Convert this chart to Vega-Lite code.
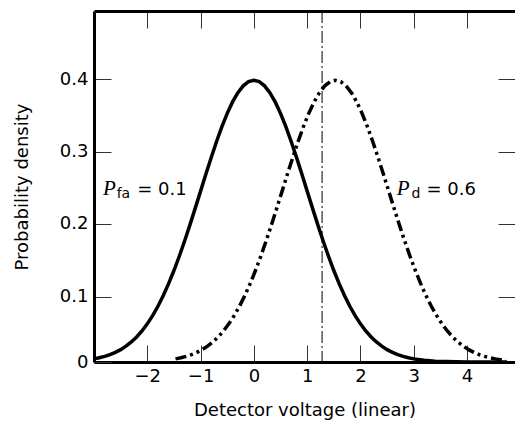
{
  "$schema": "https://vega.github.io/schema/vega-lite/v6.json",
  "width": 421,
  "height": 351,
  "autosize": {"type": "none"},
  "padding": {"left": 94, "top": 11, "right": 0, "bottom": 66},
  "config": {
    "font": "DejaVu Sans",
    "view": {"stroke": null},
    "axis": {
      "grid": false,
      "domainColor": "black",
      "domainWidth": 3,
      "tickColor": "#333333",
      "tickWidth": 1,
      "tickSize": -17,
      "labelFontSize": 18,
      "labelColor": "black",
      "labelFont": "DejaVu Sans",
      "titleFont": "DejaVu Sans",
      "titleFontSize": 18,
      "titleFontWeight": "normal",
      "titleColor": "black",
      "labelPadding": 23
    }
  },
  "datasets": {
    "noise": [
      {"x": -3.0, "y": 0.00443}, {"x": -2.9, "y": 0.00595}, {"x": -2.8, "y": 0.00792}, {"x": -2.7, "y": 0.01042},
      {"x": -2.6, "y": 0.01358}, {"x": -2.5, "y": 0.01753}, {"x": -2.4, "y": 0.02239}, {"x": -2.3, "y": 0.02833},
      {"x": -2.2, "y": 0.03547}, {"x": -2.1, "y": 0.04398}, {"x": -2.0, "y": 0.05399}, {"x": -1.9, "y": 0.06562},
      {"x": -1.8, "y": 0.07895}, {"x": -1.7, "y": 0.09405}, {"x": -1.6, "y": 0.11092}, {"x": -1.5, "y": 0.12952},
      {"x": -1.4, "y": 0.14973}, {"x": -1.3, "y": 0.17137}, {"x": -1.2, "y": 0.19419}, {"x": -1.1, "y": 0.21785},
      {"x": -1.0, "y": 0.24197}, {"x": -0.9, "y": 0.26609}, {"x": -0.8, "y": 0.28969}, {"x": -0.7, "y": 0.31225},
      {"x": -0.6, "y": 0.33322}, {"x": -0.5, "y": 0.35207}, {"x": -0.4, "y": 0.36827}, {"x": -0.3, "y": 0.38139},
      {"x": -0.2, "y": 0.39104}, {"x": -0.1, "y": 0.39695}, {"x": 0.0, "y": 0.39894}, {"x": 0.1, "y": 0.39695},
      {"x": 0.2, "y": 0.39104}, {"x": 0.3, "y": 0.38139}, {"x": 0.4, "y": 0.36827}, {"x": 0.5, "y": 0.35207},
      {"x": 0.6, "y": 0.33322}, {"x": 0.7, "y": 0.31225}, {"x": 0.8, "y": 0.28969}, {"x": 0.9, "y": 0.26609},
      {"x": 1.0, "y": 0.24197}, {"x": 1.1, "y": 0.21785}, {"x": 1.2, "y": 0.19419}, {"x": 1.3, "y": 0.17137},
      {"x": 1.4, "y": 0.14973}, {"x": 1.5, "y": 0.12952}, {"x": 1.6, "y": 0.11092}, {"x": 1.7, "y": 0.09405},
      {"x": 1.8, "y": 0.07895}, {"x": 1.9, "y": 0.06562}, {"x": 2.0, "y": 0.05399}, {"x": 2.1, "y": 0.04398},
      {"x": 2.2, "y": 0.03547}, {"x": 2.3, "y": 0.02833}, {"x": 2.4, "y": 0.02239}, {"x": 2.5, "y": 0.01753},
      {"x": 2.6, "y": 0.01358}, {"x": 2.7, "y": 0.01042}, {"x": 2.8, "y": 0.00792}, {"x": 2.9, "y": 0.00595},
      {"x": 3.0, "y": 0.00443}, {"x": 3.2, "y": 0.00238}, {"x": 3.4, "y": 0.00123}, {"x": 3.6, "y": 0.00061},
      {"x": 3.8, "y": 0.00029}, {"x": 4.0, "y": 0.00013}, {"x": 4.4, "y": 0.00002}, {"x": 4.75, "y": 0.0}
    ],
    "signal": [
      {"x": -1.47, "y": 0.00443}, {"x": -1.37, "y": 0.00595}, {"x": -1.27, "y": 0.00792}, {"x": -1.17, "y": 0.01042},
      {"x": -1.07, "y": 0.01358}, {"x": -0.97, "y": 0.01753}, {"x": -0.87, "y": 0.02239}, {"x": -0.77, "y": 0.02833},
      {"x": -0.67, "y": 0.03547}, {"x": -0.57, "y": 0.04398}, {"x": -0.47, "y": 0.05399}, {"x": -0.37, "y": 0.06562},
      {"x": -0.27, "y": 0.07895}, {"x": -0.17, "y": 0.09405}, {"x": -0.07, "y": 0.11092}, {"x": 0.03, "y": 0.12952},
      {"x": 0.13, "y": 0.14973}, {"x": 0.23, "y": 0.17137}, {"x": 0.33, "y": 0.19419}, {"x": 0.43, "y": 0.21785},
      {"x": 0.53, "y": 0.24197}, {"x": 0.63, "y": 0.26609}, {"x": 0.73, "y": 0.28969}, {"x": 0.83, "y": 0.31225},
      {"x": 0.93, "y": 0.33322}, {"x": 1.03, "y": 0.35207}, {"x": 1.13, "y": 0.36827}, {"x": 1.23, "y": 0.38139},
      {"x": 1.33, "y": 0.39104}, {"x": 1.43, "y": 0.39695}, {"x": 1.53, "y": 0.39894}, {"x": 1.63, "y": 0.39695},
      {"x": 1.73, "y": 0.39104}, {"x": 1.83, "y": 0.38139}, {"x": 1.93, "y": 0.36827}, {"x": 2.03, "y": 0.35207},
      {"x": 2.13, "y": 0.33322}, {"x": 2.23, "y": 0.31225}, {"x": 2.33, "y": 0.28969}, {"x": 2.43, "y": 0.26609},
      {"x": 2.53, "y": 0.24197}, {"x": 2.63, "y": 0.21785}, {"x": 2.73, "y": 0.19419}, {"x": 2.83, "y": 0.17137},
      {"x": 2.93, "y": 0.14973}, {"x": 3.03, "y": 0.12952}, {"x": 3.13, "y": 0.11092}, {"x": 3.23, "y": 0.09405},
      {"x": 3.33, "y": 0.07895}, {"x": 3.43, "y": 0.06562}, {"x": 3.53, "y": 0.05399}, {"x": 3.63, "y": 0.04398},
      {"x": 3.73, "y": 0.03547}, {"x": 3.83, "y": 0.02833}, {"x": 3.93, "y": 0.02239}, {"x": 4.03, "y": 0.01753},
      {"x": 4.13, "y": 0.01358}, {"x": 4.23, "y": 0.01042}, {"x": 4.33, "y": 0.00792}, {"x": 4.43, "y": 0.00595},
      {"x": 4.53, "y": 0.00443}, {"x": 4.63, "y": 0.00327}, {"x": 4.73, "y": 0.00238}
    ],
    "threshold": [{"x": 1.28}],
    "pLabels": [
      {"text": "P", "x": -2.83, "y": 0.2365},
      {"text": "P", "x": 2.68, "y": 0.2365}
    ],
    "subLabels": [
      {"text": "fa", "x": -2.575, "y": 0.232},
      {"text": "d", "x": 2.96, "y": 0.232}
    ],
    "valueLabels": [
      {"text": "= 0.1", "x": -2.19, "y": 0.2365},
      {"text": "= 0.6", "x": 3.24, "y": 0.2365}
    ]
  },
  "layer": [
    {
      "data": {"name": "noise"},
      "mark": {"type": "line", "stroke": "black", "strokeWidth": 3.5, "clip": true},
      "encoding": {
        "x": {
          "field": "x", "type": "quantitative",
          "scale": {"domain": [-3, 4.9], "nice": false, "zero": false},
          "axis": {"orient": "bottom", "values": [-2, -1, 0, 1, 2, 3, 4], "labelPadding": 22, "title": "Detector voltage (linear)", "titlePadding": 16}
        },
        "y": {
          "field": "y", "type": "quantitative",
          "scale": {"domain": [0, 0.497], "nice": false},
          "axis": {
            "orient": "left",
            "values": [0, 0.0925, 0.1955, 0.2975, 0.4004],
            "labelExpr": "datum.value == 0 ? '0' : format(round(datum.value * 10) / 10, '.1f')",
            "title": "Probability density",
            "titlePadding": 28
          }
        }
      }
    },
    {
      "data": {"name": "signal"},
      "mark": {"type": "line", "stroke": "black", "strokeWidth": 3.5, "strokeDash": [11, 4, 3, 4, 3, 4], "clip": true},
      "encoding": {
        "x": {
          "field": "x", "type": "quantitative",
          "axis": {"orient": "top", "values": [-2, -1, 0, 1, 2, 3, 4], "labels": false, "title": null}
        },
        "y": {
          "field": "y", "type": "quantitative",
          "axis": {"orient": "right", "values": [0.0925, 0.1955, 0.2975, 0.4004], "labels": false, "title": null, "domain": false}
        }
      }
    },
    {
      "data": {"name": "threshold"},
      "mark": {"type": "rule", "stroke": "black", "strokeWidth": 1, "strokeDash": [12, 3, 2, 3]},
      "encoding": {
        "x": {"field": "x", "type": "quantitative", "axis": null}
      }
    },
    {
      "data": {"name": "pLabels"},
      "mark": {"type": "text", "font": "Liberation Serif", "fontStyle": "italic", "fontSize": 21, "align": "left", "baseline": "alphabetic", "color": "black"},
      "encoding": {
        "x": {"field": "x", "type": "quantitative", "axis": null},
        "y": {"field": "y", "type": "quantitative", "axis": null},
        "text": {"field": "text"}
      }
    },
    {
      "data": {"name": "subLabels"},
      "mark": {"type": "text", "font": "DejaVu Sans", "fontSize": 14, "align": "left", "baseline": "alphabetic", "color": "black"},
      "encoding": {
        "x": {"field": "x", "type": "quantitative", "axis": null},
        "y": {"field": "y", "type": "quantitative", "axis": null},
        "text": {"field": "text"}
      }
    },
    {
      "data": {"name": "valueLabels"},
      "mark": {"type": "text", "font": "DejaVu Sans", "fontSize": 18, "align": "left", "baseline": "alphabetic", "color": "black"},
      "encoding": {
        "x": {"field": "x", "type": "quantitative", "axis": null},
        "y": {"field": "y", "type": "quantitative", "axis": null},
        "text": {"field": "text"}
      }
    }
  ],
  "resolve": {"axis": {"x": "independent", "y": "independent"}}
}
